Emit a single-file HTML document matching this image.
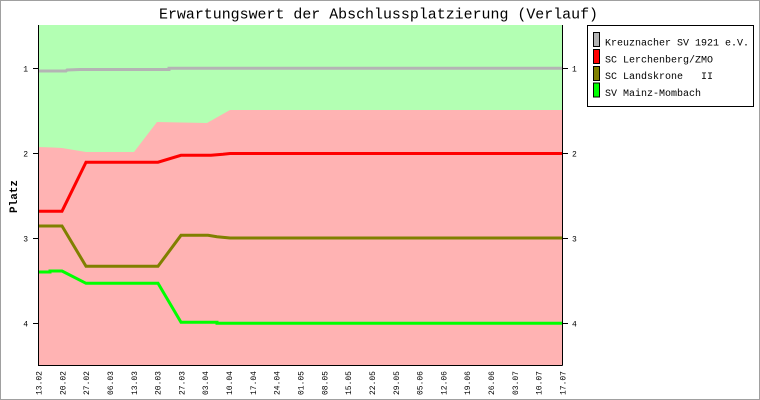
<!DOCTYPE html>
<html><head><meta charset="utf-8"><style>
html,body{margin:0;padding:0;background:#fff;}
svg{display:block;}
text{font-family:"Liberation Mono",monospace;}
</style></head><body>
<svg width="760" height="400" viewBox="0 0 760 400" xmlns="http://www.w3.org/2000/svg">
<rect x="0" y="0" width="760" height="400" fill="#fff"/>
<rect x="0.5" y="0.5" width="759" height="399" fill="none" stroke="#a0a0a0" stroke-width="1"/>
<!-- title -->
<text x="159" y="18.5" font-size="15" textLength="439" lengthAdjust="spacingAndGlyphs" fill="#000">Erwartungswert der Abschlussplatzierung (Verlauf)</text>
<!-- plot background -->
<rect x="38" y="25" width="524" height="340" fill="#ffb3b3"/>
<polygon fill="#b3ffb3" points="38,25 562,25 562,110 230,110 207,123 181,122.5 157,122 134,152 86,152 62,148 53,147.5 38,147"/>
<!-- series -->
<polyline fill="none" stroke="#b4b4b4" stroke-width="3" points="38,71 66,71 67,70 80,69.5 169,69.5 169,68.3 562,68.3"/>
<polyline fill="none" stroke="#ff0000" stroke-width="3" points="38,211.2 62,211.2 86,162.2 158,162.2 181,155.3 211,155.3 223,154.3 230,153.5 562,153.5"/>
<polyline fill="none" stroke="#808000" stroke-width="3" points="38,226 62,226 86,266.3 158,266.3 181,235.3 208,235.3 217,236.7 230,238 562,238"/>
<polyline fill="none" stroke="#00ff00" stroke-width="3" points="38,272 50,272 50,271 62,271 86,283.3 158,283.3 181,322.3 217,322.3 217,323.3 562,323.3"/>
<!-- axes -->
<line x1="38.5" y1="25" x2="38.5" y2="365.5" stroke="#000" stroke-width="1"/>
<line x1="38" y1="365.5" x2="562.5" y2="365.5" stroke="#000" stroke-width="1"/>
<line x1="562.5" y1="25" x2="562.5" y2="365.5" stroke="#000" stroke-width="1"/>
<!-- y ticks -->
<g stroke="#000" stroke-width="1">
<line x1="33" y1="68.5" x2="38" y2="68.5"/>
<line x1="33" y1="153.5" x2="38" y2="153.5"/>
<line x1="33" y1="238.5" x2="38" y2="238.5"/>
<line x1="33" y1="323.5" x2="38" y2="323.5"/>
<line x1="563" y1="68.5" x2="568" y2="68.5"/>
<line x1="563" y1="153.5" x2="568" y2="153.5"/>
<line x1="563" y1="238.5" x2="568" y2="238.5"/>
<line x1="563" y1="323.5" x2="568" y2="323.5"/>
</g>
<g font-size="8" fill="#000">
<text x="28" y="71.5" text-anchor="end">1</text>
<text x="28" y="156.5" text-anchor="end">2</text>
<text x="28" y="241.5" text-anchor="end">3</text>
<text x="28" y="326.5" text-anchor="end">4</text>
<text x="572" y="71.5">1</text>
<text x="572" y="156.5">2</text>
<text x="572" y="241.5">3</text>
<text x="572" y="326.5">4</text>
</g>
<!-- y label -->
<text transform="translate(17,196.5) rotate(-90)" font-size="11" font-weight="bold" text-anchor="middle" textLength="33" lengthAdjust="spacingAndGlyphs" fill="#000">Platz</text>
<!-- x labels -->
<g font-size="8" fill="#000" text-anchor="end">
<text transform="translate(41.5,371) rotate(-90)">13.02</text>
<text transform="translate(65.3,371) rotate(-90)">20.02</text>
<text transform="translate(89.1,371) rotate(-90)">27.02</text>
<text transform="translate(113,371) rotate(-90)">06.03</text>
<text transform="translate(136.8,371) rotate(-90)">13.03</text>
<text transform="translate(160.6,371) rotate(-90)">20.03</text>
<text transform="translate(184.4,371) rotate(-90)">27.03</text>
<text transform="translate(208.2,371) rotate(-90)">03.04</text>
<text transform="translate(232,371) rotate(-90)">10.04</text>
<text transform="translate(255.9,371) rotate(-90)">17.04</text>
<text transform="translate(279.7,371) rotate(-90)">24.04</text>
<text transform="translate(303.5,371) rotate(-90)">01.05</text>
<text transform="translate(327.3,371) rotate(-90)">08.05</text>
<text transform="translate(351.1,371) rotate(-90)">15.05</text>
<text transform="translate(374.9,371) rotate(-90)">22.05</text>
<text transform="translate(398.8,371) rotate(-90)">29.05</text>
<text transform="translate(422.6,371) rotate(-90)">05.06</text>
<text transform="translate(446.4,371) rotate(-90)">12.06</text>
<text transform="translate(470.2,371) rotate(-90)">19.06</text>
<text transform="translate(494,371) rotate(-90)">26.06</text>
<text transform="translate(517.8,371) rotate(-90)">03.07</text>
<text transform="translate(541.7,371) rotate(-90)">10.07</text>
<text transform="translate(565.5,371) rotate(-90)">17.07</text>
</g>
<!-- legend -->
<rect x="587.5" y="25.5" width="166" height="81" fill="#fff" stroke="#000" stroke-width="1"/>
<g stroke="#000" stroke-width="1">
<rect x="593.5" y="32.5" width="6" height="14" fill="#b4b4b4"/>
<rect x="593.5" y="49.5" width="6" height="14" fill="#ff0000"/>
<rect x="593.5" y="66.5" width="6" height="14" fill="#808000"/>
<rect x="593.5" y="83" width="6" height="14" fill="#00ff00"/>
</g>
<g font-size="10" fill="#000">
<text x="605" y="45.5">Kreuznacher SV 1921 e.V.</text>
<text x="605" y="62.3">SC Lerchenberg/ZMO</text>
<text x="605" y="79">SC Landskrone&#160;&#160;&#160;II</text>
<text x="605" y="95.8">SV Mainz-Mombach</text>
</g>
</svg>
</body></html>
